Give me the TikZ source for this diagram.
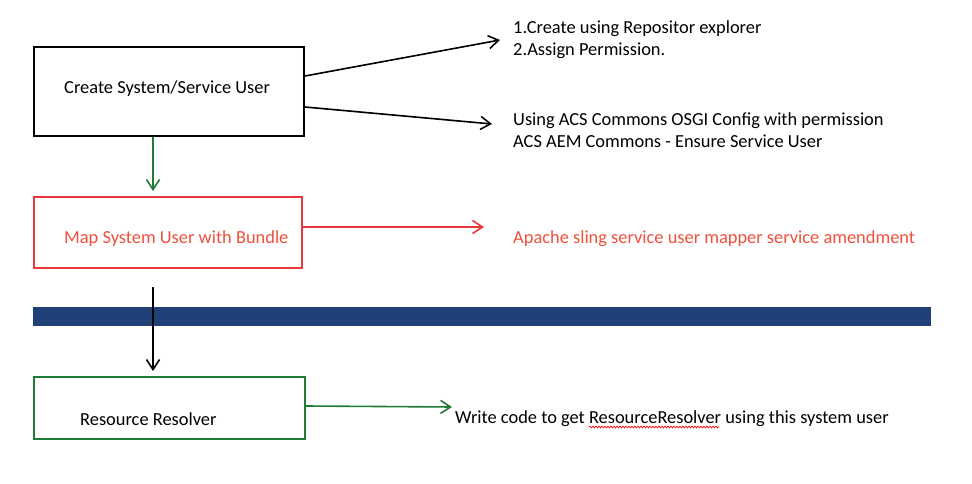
\documentclass[tikz,border=0pt]{standalone}
\usepackage{fontspec}
\setmainfont{Carlito}
\usetikzlibrary{arrows.meta, decorations.pathmorphing}
\definecolor{boxred}{HTML}{E8383D}
\definecolor{textred}{HTML}{F0503C}
\definecolor{boxgreen}{HTML}{1E7B34}
\definecolor{barblue}{HTML}{1F4178}
\tikzset{
	box/.style={draw, line width=2pt, minimum width=270pt, inner sep=0pt},
	txt/.style={anchor=west, inner sep=0pt, font=\fontsize{18.4}{22}\selectfont, align=left},
	arr/.style={-{Straight Barb[length=10pt, width=13pt]}, line width=1.6pt}
}
\begin{document}
\begin{tikzpicture}[x=1pt, y=-1pt]
		\useasboundingbox (0, 0) rectangle (972, 484);

		\node[box, minimum height=89pt] (create) at (169, 91.5) {};
		\node[box, boxred, minimum height=71pt, minimum width=268pt] (map) at (168, 232.5) {};
		\node[box, boxgreen, minimum height=62pt, minimum width=271pt] (resolver) at (169.5, 408) {};

		\fill[barblue] (33, 307) rectangle (931, 326);

		\node[txt] (createtxt) at (64, 89) {Create System/Service User};
		\node[txt, textred] (maptxt) at (64, 239) {Map System User with Bundle};
		\node[txt] (resolvertxt) at (80, 419) {Resource Resolver};

		\node[txt] (repo) at (513, 40) {1.Create using Repositor explorer\\2.Assign Permission.};
		\node[txt] (acs) at (513, 130) {Using ACS Commons OSGI Config with permission\\ACS AEM Commons - Ensure Service User};
		\node[txt, textred] (sling) at (513, 239) {Apache sling service user mapper service amendment};
		\node[txt] (code) at (455, 419) {Write code to get ResourceResolver using this system user};

		\coordinate (e1) at (500, 40);
		\coordinate (e2) at (492, 124);
		\coordinate (e3) at (484, 227);
		\coordinate (e4) at (452, 407);
		\coordinate (s5) at (153, 287);

		\draw[arr] ([yshift=15.5]create.east) -- (e1);
		\draw[arr] ([yshift=-15.5]create.east) -- (e2);
		\draw[arr, boxred] ([yshift=5.5]map.east) -- (e3);
		\draw[arr, boxgreen] ([xshift=-16]create.south) -- ([xshift=-15, yshift=5]map.north);
		\draw[arr] (s5) -- ([xshift=-16.5, yshift=5]resolver.north);
		\draw[arr, boxgreen] ([yshift=2]resolver.east) -- (e4);

		\draw[red, line width=0.6pt, decorate, decoration={snake, amplitude=1pt, segment length=3pt}] (589, 427) -- (719, 427);
	\end{tikzpicture}
\end{document}
